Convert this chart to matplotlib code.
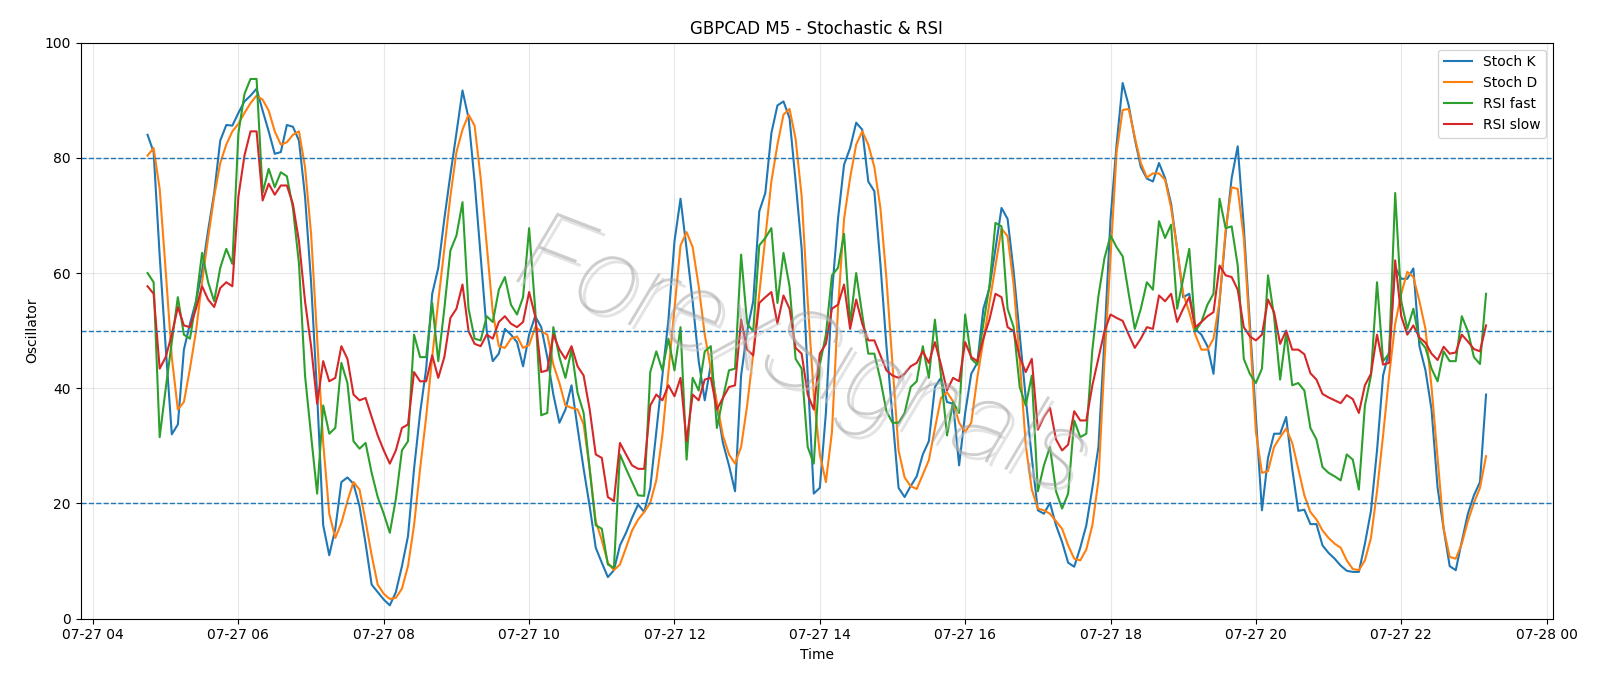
import numpy as np
import pandas as pd
import matplotlib
matplotlib.use("Agg")
import matplotlib.pyplot as plt
import matplotlib.dates as mdates
import matplotlib.patheffects as pe

start_time = "2023-07-27 04:45"
n_bars = 222

stoch_k = [
    84, 81, 63, 47, 32, 33.7, 46.7, 51.2, 55.1, 60.3,
    67.4, 73.9, 83, 85.7, 85.6, 87.8, 89.8, 90.8, 92, 88.2,
    84.6, 80.7, 81, 85.7, 85.4, 83, 73.3, 58.4, 38.9, 16.2,
    11, 15.6, 23.7, 24.5, 23.4, 19.5, 13, 5.9, 4.6, 3.3,
    2.3, 4.6, 9.1, 14.3, 26, 35.7, 43.4, 56.4, 60.9, 69.4,
    77.1, 84.3, 91.7, 86.9, 75.9, 62.9, 49.9, 44.7, 46, 50.3,
    49.3, 48, 43.8, 49.3, 52.5, 50.6, 45.4, 38.9, 34, 36.3,
    40.5, 33.1, 26, 19.5, 12.3, 9.7, 7.2, 8.4, 12.7, 14.9,
    17.5, 19.8, 18.5, 22.7, 32.4, 42.2, 51.9, 65.5, 72.9, 64.2,
    55.1, 44.7, 37.9, 44.1, 37, 30.5, 26.6, 22.1, 42.2, 49.9,
    55.1, 70.7, 73.9, 84.3, 89.1, 89.8, 86.9, 75.9, 64.2, 42.2,
    21.7, 22.7, 35.7, 56.4, 69.4, 78.8, 81.7, 86.1, 84.9, 75.9,
    74.2, 61.6, 47.3, 35, 22.7, 21.1, 23, 24.7, 28.5, 30.8,
    40.2, 41.8, 37.6, 37.3, 26.6, 35.7, 42.5, 44.4, 53.8, 57.4,
    64.2, 71.3, 69.4, 60.3, 49.3, 38.3, 27.9, 18.8, 18.2, 20.1,
    16.2, 13.3, 9.7, 9, 12.3, 16.2, 22.7, 29.8, 48.6, 69.4,
    82.3, 93, 89.1, 83.3, 78.4, 76.4, 75.9, 79.1, 76.5, 72,
    64.2, 55.8, 56.4, 50.3, 49.3, 47.3, 42.5, 55.1, 66.8, 76.5,
    82, 68.1, 51.2, 35, 18.8, 27.9, 32.1, 32.1, 35, 26,
    18.7, 18.9, 16.4, 16.4, 12.7, 11.4, 10.4, 9.2, 8.3, 8.1,
    8.1, 13, 18.7, 29.2, 42.2, 46.4, 61, 59, 59, 60.8,
    47.3, 43.1, 36.3, 22.7, 15.6, 9.1, 8.4, 13.4, 18.2, 21.4,
    23.7, 38.9,
]

stoch_d = [
    80.4, 81.7, 74.6, 60.3, 45.4, 36.3, 37.6, 43.4, 49.9, 58.4,
    66.1, 73.3, 79.1, 82.3, 84.6, 85.9, 87.8, 89.5, 90.8, 90.1,
    88.2, 84.6, 82.3, 82.7, 84, 84.6, 78.4, 66.8, 48.6, 30.5,
    18.2, 14, 16.6, 20.4, 23.7, 22.4, 16.9, 11, 5.9, 4.3,
    3.4, 3.6, 5.2, 9.1, 16.2, 26, 35, 45.4, 55.1, 64.2,
    73.3, 81, 84.9, 87.5, 85.6, 76.5, 64.8, 53.2, 47.3, 47,
    48.6, 49, 47, 47.5, 50.6, 49.9, 49.3, 44.1, 40.9, 37,
    36.6, 36.3, 33.7, 26, 16.9, 13.6, 9.7, 8.4, 9.4, 12.3,
    15.3, 17.2, 18.5, 20.1, 24, 31.8, 42.8, 53.8, 64.8, 67.1,
    64.5, 57.7, 49.3, 43.4, 37.5, 31.8, 28.5, 26.9, 29.8, 37,
    46, 56.4, 66.1, 75.9, 82.3, 87.5, 88.5, 83.3, 73.3, 55.1,
    38.9, 28.5, 23.7, 32.4, 53.8, 69.4, 76.5, 82.3, 84.6, 82.3,
    78.4, 71.3, 59, 44.1, 29.2, 24.5, 23, 22.5, 25, 27.5,
    33, 38.3, 39.3, 37.7, 34, 32.4, 34, 41.8, 48.3, 54.8,
    61.2, 67.7, 66.4, 58, 45, 30.1, 22.4, 19.1, 18.8, 18.2,
    16.9, 15.6, 12.7, 10.4, 10.1, 12, 16.2, 24, 44.7, 62.9,
    81, 88.3, 88.5, 83.6, 79.1, 76.6, 77.3, 77.3, 76.2, 71.3,
    64.2, 56.4, 53.2, 49.3, 46.7, 46.7, 48.6, 55.1, 67.4, 74.9,
    74.6, 66.1, 49.9, 32.4, 25.3, 25.6, 29.8, 31.5, 33, 30.5,
    26, 21.4, 18.5, 17.2, 15.3, 14, 13, 12.3, 10.1, 8.6,
    8.4, 10.1, 14, 22.1, 31.8, 42.2, 51.2, 56.4, 60.2, 59.3,
    55.1, 50.3, 40.2, 27.9, 15.6, 10.7, 10.4, 13, 16.9, 20.1,
    22.7, 28.2,
]

rsi_fast = [
    60, 58.4, 31.5, 40, 48, 55.8, 49.3, 48.6, 55.1, 63.5,
    58.4, 55.1, 60.9, 64.2, 61.6, 84.3, 91.1, 93.7, 93.7, 73.9,
    78.1, 74.9, 77.5, 76.8, 71.3, 61.6, 42.2, 31.8, 21.7, 37,
    32.1, 33.1, 44.4, 40.9, 30.8, 29.5, 30.5, 25.3, 21.1, 18.2,
    14.9, 20.8, 29.2, 30.8, 49.3, 45.4, 45.4, 54.8, 44.7, 53.8,
    63.9, 66.5, 72.3, 53.8, 48.6, 48.3, 52.5, 51.5, 57.1, 59.3,
    54.5, 52.8, 55.8, 67.8, 53.8, 35.3, 35.7, 50.6, 45.4, 41.8,
    46.7, 39.2, 35.7, 26, 16.2, 15.6, 9.4, 8.8, 28.5, 26,
    23.7, 21.4, 21.3, 42.8, 46.4, 43.1, 48.6, 43.1, 50.6, 27.6,
    41.8, 39.6, 46.4, 47.3, 33.1, 38.3, 43.1, 43.4, 63.2, 51.2,
    49.9, 64.8, 66.1, 67.8, 54.8, 63.5, 57.7, 45.1, 43.4, 29.8,
    26.9, 44.1, 49.3, 59.6, 60.9, 66.8, 51.2, 60, 52.8, 46,
    46, 41.5, 36, 34, 34, 35.7, 40.2, 41.2, 47.3, 41.8,
    51.9, 42.2, 31.8, 37.6, 35.7, 52.8, 45.1, 44.1, 51.2, 57.7,
    68.7, 68.1, 53.8, 50.6, 40.2, 37, 42.2, 22.1, 26.6, 29.8,
    22.1, 19.1, 21.7, 34.4, 31.5, 32.1, 46.7, 56, 62.6, 66.5,
    64.5, 62.9, 56.4, 50.3, 53.8, 58.4, 57.1, 69, 66.1, 68.4,
    53.8, 59, 64.2, 49.9, 51.5, 54.5, 56.4, 72.9, 67.8, 68.1,
    61.3, 45.1, 42.5, 40.9, 43.4, 59.6, 52.5, 41.5, 49.6, 40.5,
    40.9, 39.6, 33.1, 31.1, 26.3, 25.3, 24.7, 24, 28.5, 27.6,
    22.4, 37, 42.2, 58.4, 44.7, 46, 73.9, 55.1, 50.3, 53.8,
    48.3, 47, 43.4, 41.2, 46.4, 44.7, 44.7, 52.5, 49.9, 45.4,
    44.2, 56.4,
]

rsi_slow = [
    57.7, 56.4, 43.4, 45.4, 49.3, 54.1, 50.9, 50.6, 53.8, 57.7,
    55.4, 54.1, 57.4, 58.4, 57.7, 73.3, 80.4, 84.6, 84.6, 72.6,
    75.5, 73.6, 75.2, 75.2, 72, 65.5, 55.1, 47.3, 37.3, 44.7,
    41.2, 41.8, 47.3, 45.1, 38.9, 37.9, 38.3, 35, 31.8, 29.2,
    26.9, 29.2, 33.1, 33.7, 42.8, 41.2, 41.2, 45.7, 41.8, 45.4,
    52.2, 53.8, 58, 49.9, 47.7, 47.3, 49.3, 48.6, 51.5, 52.5,
    51.2, 50.6, 51.5, 56.7, 52.5, 42.8, 43.1, 49.3, 46.7, 45.1,
    47.3, 43.8, 42.2, 36.3, 28.5, 27.9, 21.1, 20.4, 30.5, 28.5,
    26.6, 26, 26, 37, 38.9, 37.9, 40.5, 38.6, 41.8, 30.8,
    38.9, 37.9, 41.5, 41.8, 36.3, 38.3, 40.2, 40.5, 51.9, 46.7,
    45.7, 54.8, 55.8, 56.7, 51.2, 56.1, 53.8, 47, 46, 38.9,
    36.3, 46, 47.7, 53.8, 54.5, 58, 50.3, 55.4, 51.2, 48.3,
    48.3, 45.7, 43.1, 42.2, 41.8, 42.5, 43.8, 44.4, 46.4, 44.4,
    48, 44.1, 39.6, 41.8, 41.2, 48, 45.4, 44.7, 48.6, 51.9,
    56.4, 55.8, 50.6, 49.9, 45.4, 42.8, 45.1, 32.8, 35, 36.6,
    31.1, 29.2, 30.2, 36, 34.4, 34.4, 40.5, 45.2, 49.9, 52.8,
    52.2, 51.7, 49.3, 47, 48.6, 50.6, 50.3, 56.1, 55.1, 56.4,
    51.5, 53.8, 55.8, 50.6, 51.5, 52.5, 53.2, 61.3, 59.6, 59.3,
    57.1, 50.6, 49, 48.3, 49.3, 55.4, 53.2, 47.7, 50, 46.7,
    46.7, 45.9, 42.6, 41.5, 39, 38.4, 37.9, 37.4, 38.8, 38.1,
    35.7, 40.5, 42.5, 49.3, 44.1, 44.4, 62.2, 52.5, 49.3, 50.9,
    48.8, 47.9, 46, 44.9, 47.2, 46, 46.2, 49.3, 48.1, 46.8,
    46.4, 50.9,
]

levels = [20, 50, 80]
series_labels = ["Stoch K", "Stoch D", "RSI fast", "RSI slow"]
title = "GBPCAD M5 - Stochastic & RSI"
watermark = "ForexSignals"

times = pd.date_range(start_time, periods=n_bars, freq="5min")

fig = plt.figure(figsize=(16, 6.86), dpi=100)
ax = fig.add_axes([0.0504, 0.0983, 0.9202, 0.8395])

for vals, lab in zip([stoch_k, stoch_d, rsi_fast, rsi_slow], series_labels):
    ax.plot(times, vals, label=lab, linewidth=1.5)

for lv in levels:
    ax.axhline(lv, linestyle="--", color="tab:blue", linewidth=1)

ax.set_ylim(0, 100)
ax.grid(True, alpha=0.3)
ax.xaxis.set_major_locator(mdates.HourLocator(byhour=range(0, 24, 2)))
ax.xaxis.set_major_formatter(mdates.DateFormatter("%m-%d %H"))
ax.set_title(title)
ax.set_xlabel("Time")
ax.set_ylabel("Oscillator")
ax.legend(loc="upper right")

ax.text(0.49, 0.45, watermark, transform=ax.transAxes, fontsize=80,
        rotation=-21, ha="center", va="center", fontstyle="italic",
        fontweight="light", family=["Roboto", "DejaVu Sans"],
        color=(0.62, 0.62, 0.62, 0.5), zorder=10,
        path_effects=[
            pe.SimplePatchShadow(offset=(3, -3), shadow_rgbFace="#c8c8c8", alpha=0.5),
            pe.Normal(),
        ])

fig.savefig("out.png", dpi=100)
